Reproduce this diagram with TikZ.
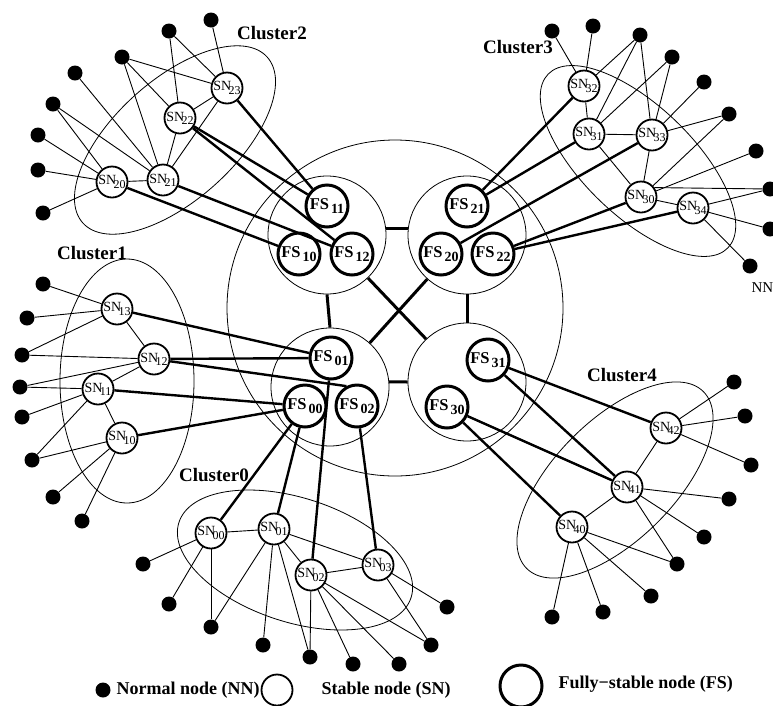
\documentclass[tikz,border=0pt]{standalone}
\usepackage{fontspec}
\setmainfont{Liberation Serif}
\tikzset{
  nn/.style={circle,fill=black,inner sep=0pt,minimum size=15pt},
  sn/.style={circle,draw,line width=1.8pt,fill=white,inner sep=0pt,minimum size=31pt,font=\fontsize{14}{14}\selectfont},
  fs/.style={circle,draw,line width=3pt,fill=white,inner sep=0pt,minimum size=42pt,font=\bfseries\fontsize{16.5}{16.5}\selectfont},
  grp/.style={circle,draw,line width=0.8pt,inner sep=0pt,minimum size=118pt},
  ring/.style={line width=0.8pt},
  lnk/.style={line width=0.9pt},
  uplink/.style={line width=2.4pt},
  joint/.style={line width=3pt},
  lbl/.style={font=\bfseries\fontsize{19}{19}\selectfont},
  key/.style={anchor=west,font=\bfseries\fontsize{18}{18}\selectfont},
}
\newcommand{\snlab}[1]{\makebox[0pt]{SN\kern-0.2em\raisebox{-0.5ex}{\fontsize{12}{12}\selectfont #1}}}
\newcommand{\fslab}[1]{\makebox[0pt]{FS\kern2pt\raisebox{-4pt}{\fontsize{14}{14}\selectfont #1}}}
\begin{document}
\begin{tikzpicture}[x=1pt,y=-1pt]
\useasboundingbox (0,0) rectangle (773,705);

\draw [ring] (395,308) circle [radius=168pt];
\draw [ring, rotate around={42:(175,140)}] (175,140) ellipse [x radius=124pt, y radius=60pt];
\draw [ring, rotate around={-44:(638,161)}] (638,161) ellipse [x radius=125pt, y radius=55pt];
\draw [ring] (127,381) ellipse [x radius=67pt, y radius=122pt];
\draw [ring, rotate around={-18:(295,560)}] (295,560) ellipse [x radius=122pt, y radius=62pt];
\draw [ring, rotate around={45:(615,480)}] (615,480) ellipse [x radius=125pt, y radius=60pt];

\node [grp] (c1) at (327,235) {};
\node [grp] (c2) at (467,235) {};
\node [grp] (c0) at (330,387) {};
\node [grp] (c3) at (467,382) {};
\draw [joint] (c1.6) edge (c2.174);
\draw [joint] (c0.5) edge (c3.180);
\draw [joint] (c1.south) edge (c0.north);
\draw [joint] (c2.south) edge (c3.north);
\draw [joint] (c1) edge (c3);
\draw [joint] (c2) edge (c0);

\node [fs] (fs11) at (327,206) {\fslab{11}};
\node [fs] (fs10) at (299,254) {\fslab{10}};
\node [fs] (fs12) at (352,254) {\fslab{12}};
\node [fs] (fs21) at (467,206) {\fslab{21}};
\node [fs] (fs20) at (441,254) {\fslab{20}};
\node [fs] (fs22) at (493,254) {\fslab{22}};
\node [fs] (fs01) at (331,358) {\fslab{01}};
\node [fs] (fs00) at (305,406) {\fslab{00}};
\node [fs] (fs02) at (357,406) {\fslab{02}};
\node [fs] (fs31) at (488,360) {\fslab{31}};
\node [fs] (fs30) at (447,407) {\fslab{30}};

\node [sn] (sn20) at (112,182) {\snlab{20}};
\node [sn] (sn21) at (163,180) {\snlab{21}};
\node [sn] (sn22) at (180,118) {\snlab{22}};
\node [sn] (sn23) at (227,88) {\snlab{23}};
\node [sn] (sn30) at (641,197) {\snlab{30}};
\node [sn] (sn31) at (589,134) {\snlab{31}};
\node [sn] (sn32) at (584,86) {\snlab{32}};
\node [sn] (sn33) at (652,135) {\snlab{33}};
\node [sn] (sn34) at (693,208) {\snlab{34}};
\node [sn] (sn10) at (122,438) {\snlab{10}};
\node [sn] (sn11) at (98,389) {\snlab{11}};
\node [sn] (sn12) at (154,359) {\snlab{12}};
\node [sn] (sn13) at (117,309) {\snlab{13}};
\node [sn] (sn00) at (211,533) {\snlab{00}};
\node [sn] (sn01) at (274,529) {\snlab{01}};
\node [sn] (sn02) at (311,575) {\snlab{02}};
\node [sn] (sn03) at (378,565) {\snlab{03}};
\node [sn] (sn40) at (572,527) {\snlab{40}};
\node [sn] (sn41) at (627,487) {\snlab{41}};
\node [sn] (sn42) at (666,428) {\snlab{42}};

\node [nn] (n2a) at (211,20) {};
\node [nn] (n2b) at (169,31) {};
\node [nn] (n2c) at (122,57) {};
\node [nn] (n2d) at (75,73) {};
\node [nn] (n2e) at (53,104) {};
\node [nn] (n2f) at (38,135) {};
\node [nn] (n2g) at (38,170) {};
\node [nn] (n2h) at (43,213) {};
\node [nn] (n3a) at (552,31) {};
\node [nn] (n3b) at (593,26) {};
\node [nn] (n3c) at (640,35) {};
\node [nn] (n3d) at (672,57) {};
\node [nn] (n3e) at (704,82) {};
\node [nn] (n3f) at (729,114) {};
\node [nn] (n3g) at (756,151) {};
\node [nn] (n3h) at (770,189) {};
\node [nn] (n3i) at (770,229) {};
\node [nn] (n3j) at (750,266) {};
\node [nn] (n1a) at (43,284) {};
\node [nn] (n1b) at (27,318) {};
\node [nn] (n1c) at (22,355) {};
\node [nn] (n1d) at (20,387) {};
\node [nn] (n1e) at (22,417) {};
\node [nn] (n1f) at (32,460) {};
\node [nn] (n1g) at (53,497) {};
\node [nn] (n1h) at (82,521) {};
\node [nn] (n0a) at (143,564) {};
\node [nn] (n0b) at (169,604) {};
\node [nn] (n0c) at (211,627) {};
\node [nn] (n0d) at (263,645) {};
\node [nn] (n0e) at (310,657) {};
\node [nn] (n0f) at (353,664) {};
\node [nn] (n0g) at (399,664) {};
\node [nn] (n0h) at (431,645) {};
\node [nn] (n0i) at (447,607) {};
\node [nn] (n4a) at (734,382) {};
\node [nn] (n4b) at (745,416) {};
\node [nn] (n4c) at (751,465) {};
\node [nn] (n4d) at (729,499) {};
\node [nn] (n4e) at (704,537) {};
\node [nn] (n4f) at (677,564) {};
\node [nn] (n4g) at (651,596) {};
\node [nn] (n4h) at (603,612) {};
\node [nn] (n4i) at (552,617) {};

\draw [lnk] (sn23) edge (n2a) edge (n2b) edge (n2c) edge (sn22) edge (sn21);
\draw [lnk] (sn22) edge (n2b) edge (n2c) edge (sn21);
\draw [lnk] (sn21) edge (n2c) edge (n2d) edge (n2e) edge (sn20);
\draw [lnk] (sn20) edge (n2e) edge (n2f) edge (n2g) edge (n2h);

\draw [lnk] (sn32) edge (n3a) edge (n3b) edge (n3c) edge (sn31);
\draw [lnk] (sn31) edge (n3c) edge (n3d) edge (sn33) edge (sn30);
\draw [lnk] (sn33) edge (n3c) edge (n3d) edge (n3e) edge (n3f) edge (sn30);
\draw [lnk] (sn30) edge (n3f) edge (n3g) edge (sn34);
\draw [lnk] (sn30.35) edge (n3h);
\draw [lnk] (sn34) edge (n3h) edge (n3i) edge (n3j);

\draw [lnk] (sn13) edge (n1a) edge (n1b) edge (n1c) edge (sn12);
\draw [lnk] (sn12) edge (n1c) edge (n1d) edge (sn11);
\draw [lnk] (sn11) edge (n1d) edge (n1e) edge (n1f) edge (sn10);
\draw [lnk] (sn10) edge (n1f) edge (n1g) edge (n1h);

\draw [lnk] (sn00) edge (n0a) edge (n0b) edge (n0c) edge (sn01);
\draw [lnk] (sn01) edge (n0c) edge (n0d) edge (n0e) edge (sn02) edge (sn03);
\draw [lnk] (sn02) edge (n0e) edge (n0f) edge (n0g) edge (n0h) edge (sn03);
\draw [lnk] (sn03) edge (n0h) edge (n0i);

\draw [lnk] (sn42) edge (n4a) edge (n4b) edge (n4c) edge (sn41);
\draw [lnk] (sn41) edge (n4d) edge (n4e) edge (n4f) edge (sn40);
\draw [lnk] (sn40) edge (n4f) edge (n4g) edge (n4h) edge (n4i);

\draw [uplink] (sn23) edge (fs11);
\draw [uplink] (sn22) edge (fs11) edge (fs12);
\draw [uplink] (sn21) edge (fs12);
\draw [uplink] (sn20) edge (fs10);
\draw [uplink] (sn32) edge (fs21);
\draw [uplink] (sn31) edge (fs21);
\draw [uplink] (sn33) edge (fs20);
\draw [uplink] (sn30) edge (fs22);
\draw [uplink] (sn34) edge (fs22);
\draw [uplink] (sn13) edge (fs01);
\draw [uplink] (sn12) edge (fs01) edge (fs02.118);
\draw [uplink] (sn11) edge (fs00);
\draw [uplink] (sn10) edge (fs00);
\draw [uplink] (sn00) edge (fs00);
\draw [uplink] (sn01) edge (fs00);
\draw [uplink] (sn02) edge (fs01);
\draw [uplink] (sn03) edge (fs02);
\draw [uplink] (fs31) edge (sn42) edge (sn41);
\draw [uplink] (fs30) edge (sn41) edge (sn40);

\node [lbl] (t2) at (272,33) {Cluster2};
\node [lbl] (t3) at (518,47) {Cluster3};
\node [lbl] (t1) at (92,253) {Cluster1};
\node [lbl] (t0) at (214,475) {Cluster0};
\node [lbl] (t4) at (622,375) {Cluster4};
\node [anchor=west,font=\fontsize{15}{15}\selectfont] (tnn) at (748,288) {NN};

\node [nn] (knn) at (103,690) {};
\node [key] (lnn) at (113,690) {Normal node (NN)};
\node [sn] (ksn) at (277,690) {};
\node [key] (lsn) at (318,690) {Stable node (SN)};
\node [fs] (kfs) at (521,686) {};
\node [key] (lfs) at (555,684) {Fully−stable node (FS)};
\end{tikzpicture}
\end{document}
